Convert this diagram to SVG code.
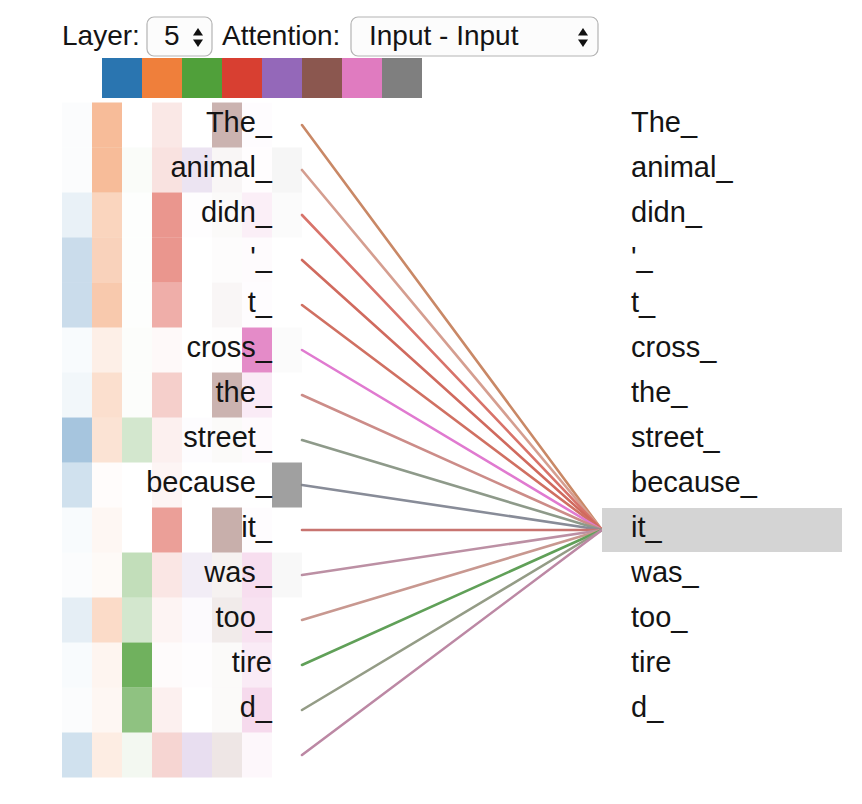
<svg xmlns="http://www.w3.org/2000/svg" width="862" height="804" viewBox="0 0 862 804">
<style>
  text { font-family: "Liberation Sans", Arial, Helvetica, sans-serif; fill: #141414; }
  .ctl { font-size: 28px; }
  .tok { font-size: 29px; }
  .left { text-anchor: end; }
  .sel { fill: #fcfcfc; stroke: #b4b4b4; stroke-width: 1.2; }
  .arr { fill: #111; }
  .b { fill: #2a75b0; } .o { fill: #ef7f3b; } .g { fill: #50a03a; } .r { fill: #d83f31; }
  .p { fill: #9468b9; } .br { fill: #8b574f; } .pk { fill: #e07bc0; } .gy { fill: #7f7f7f; }
  .conn line { stroke-width: 2.6; fill: none; stroke-linecap: round; }
</style>
<rect width="862" height="804" fill="#ffffff"/>

<g id="controls">
  <text class="ctl" x="62" y="45">Layer:</text>
  <rect class="sel" x="147" y="17" width="65" height="39" rx="7"/>
  <text class="ctl" x="164" y="45">5</text>
  <polygon class="arr" points="193,35.5 198,28 203,35.5"/>
  <polygon class="arr" points="193,39.5 198,47 203,39.5"/>
  <text class="ctl" x="222" y="45">Attention:</text>
  <rect class="sel" x="351" y="17" width="247" height="39" rx="7"/>
  <text class="ctl" x="369" y="45">Input - Input</text>
  <polygon class="arr" points="578,35.5 583,28 588,35.5"/>
  <polygon class="arr" points="578,39.5 583,47 588,39.5"/>
</g>

<g id="legend">
  <rect class="b" x="102" y="58" width="40" height="40"/>
  <rect class="o" x="142" y="58" width="40" height="40"/>
  <rect class="g" x="182" y="58" width="40" height="40"/>
  <rect class="r" x="222" y="58" width="40" height="40"/>
  <rect class="p" x="262" y="58" width="40" height="40"/>
  <rect class="br" x="302" y="58" width="40" height="40"/>
  <rect class="pk" x="342" y="58" width="40" height="40"/>
  <rect class="gy" x="382" y="58" width="40" height="40"/>
</g>

<g id="connectors" class="conn">
  <line x1="302" y1="125" x2="602" y2="530" stroke="#c98866"/>
  <line x1="302" y1="170" x2="602" y2="530" stroke="#d59e90"/>
  <line x1="302" y1="215" x2="602" y2="530" stroke="#d8736a"/>
  <line x1="302" y1="260" x2="602" y2="530" stroke="#d06a5e"/>
  <line x1="302" y1="305" x2="602" y2="530" stroke="#d07062"/>
  <line x1="302" y1="350" x2="602" y2="530" stroke="#e07ad0"/>
  <line x1="302" y1="395" x2="602" y2="530" stroke="#cc8c88"/>
  <line x1="302" y1="440" x2="602" y2="530" stroke="#8e9a8a"/>
  <line x1="302" y1="485" x2="602" y2="530" stroke="#888c98"/>
  <line x1="302" y1="530" x2="602" y2="530" stroke="#c87470"/>
  <line x1="302" y1="575" x2="602" y2="530" stroke="#bc90a4"/>
  <line x1="302" y1="620" x2="602" y2="530" stroke="#c89890"/>
  <line x1="302" y1="665" x2="602" y2="530" stroke="#60a058"/>
  <line x1="302" y1="710" x2="602" y2="530" stroke="#949c86"/>
  <line x1="302" y1="755" x2="602" y2="530" stroke="#bc88a4"/>
</g>

<g id="left-0">
  <rect class="b" x="62" y="102.5" width="30" height="45" opacity="0.02"/>
  <rect class="o" x="92" y="102.5" width="30" height="45" opacity="0.52"/>
  <rect class="r" x="152" y="102.5" width="30" height="45" opacity="0.12"/>
  <rect class="br" x="212" y="102.5" width="30" height="45" opacity="0.45"/>
  <rect class="pk" x="242" y="102.5" width="30" height="45" opacity="0.02"/>
  <text class="tok left" x="272" y="132">The_</text>
</g>
<g id="left-1">
  <rect class="b" x="62" y="147.5" width="30" height="45" opacity="0.02"/>
  <rect class="o" x="92" y="147.5" width="30" height="45" opacity="0.52"/>
  <rect class="g" x="122" y="147.5" width="30" height="45" opacity="0.03"/>
  <rect class="r" x="152" y="147.5" width="30" height="45" opacity="0.15"/>
  <rect class="p" x="182" y="147.5" width="30" height="45" opacity="0.18"/>
  <rect class="br" x="212" y="147.5" width="30" height="45" opacity="0.05"/>
  <rect class="pk" x="242" y="147.5" width="30" height="45" opacity="0.01"/>
  <rect class="gy" x="272" y="147.5" width="30" height="45" opacity="0.07"/>
  <text class="tok left" x="272" y="177">animal_</text>
</g>
<g id="left-2">
  <rect class="b" x="62" y="192.5" width="30" height="45" opacity="0.10"/>
  <rect class="o" x="92" y="192.5" width="30" height="45" opacity="0.33"/>
  <rect class="g" x="122" y="192.5" width="30" height="45" opacity="0.01"/>
  <rect class="r" x="152" y="192.5" width="30" height="45" opacity="0.55"/>
  <rect class="p" x="182" y="192.5" width="30" height="45" opacity="0.01"/>
  <rect class="br" x="212" y="192.5" width="30" height="45" opacity="0.03"/>
  <rect class="pk" x="242" y="192.5" width="30" height="45" opacity="0.12"/>
  <rect class="gy" x="272" y="192.5" width="30" height="45" opacity="0.03"/>
  <text class="tok left" x="272" y="222">didn_</text>
</g>
<g id="left-3">
  <rect class="b" x="62" y="237.5" width="30" height="45" opacity="0.25"/>
  <rect class="o" x="92" y="237.5" width="30" height="45" opacity="0.35"/>
  <rect class="g" x="122" y="237.5" width="30" height="45" opacity="0.01"/>
  <rect class="r" x="152" y="237.5" width="30" height="45" opacity="0.55"/>
  <rect class="br" x="212" y="237.5" width="30" height="45" opacity="0.02"/>
  <rect class="pk" x="242" y="237.5" width="30" height="45" opacity="0.03"/>
  <text class="tok left" x="272" y="267">'_</text>
</g>
<g id="left-4">
  <rect class="b" x="62" y="282.5" width="30" height="45" opacity="0.25"/>
  <rect class="o" x="92" y="282.5" width="30" height="45" opacity="0.42"/>
  <rect class="g" x="122" y="282.5" width="30" height="45" opacity="0.01"/>
  <rect class="r" x="152" y="282.5" width="30" height="45" opacity="0.42"/>
  <rect class="br" x="212" y="282.5" width="30" height="45" opacity="0.05"/>
  <rect class="pk" x="242" y="282.5" width="30" height="45" opacity="0.02"/>
  <text class="tok left" x="272" y="312">t_</text>
</g>
<g id="left-5">
  <rect class="b" x="62" y="327.5" width="30" height="45" opacity="0.03"/>
  <rect class="o" x="92" y="327.5" width="30" height="45" opacity="0.12"/>
  <rect class="g" x="122" y="327.5" width="30" height="45" opacity="0.02"/>
  <rect class="r" x="152" y="327.5" width="30" height="45" opacity="0.03"/>
  <rect class="br" x="212" y="327.5" width="30" height="45" opacity="0.01"/>
  <rect class="pk" x="242" y="327.5" width="30" height="45" opacity="0.88"/>
  <rect class="gy" x="272" y="327.5" width="30" height="45" opacity="0.03"/>
  <text class="tok left" x="272" y="357">cross_</text>
</g>
<g id="left-6">
  <rect class="b" x="62" y="372.5" width="30" height="45" opacity="0.06"/>
  <rect class="o" x="92" y="372.5" width="30" height="45" opacity="0.25"/>
  <rect class="g" x="122" y="372.5" width="30" height="45" opacity="0.02"/>
  <rect class="r" x="152" y="372.5" width="30" height="45" opacity="0.25"/>
  <rect class="br" x="212" y="372.5" width="30" height="45" opacity="0.45"/>
  <rect class="pk" x="242" y="372.5" width="30" height="45" opacity="0.15"/>
  <text class="tok left" x="272" y="402">the_</text>
</g>
<g id="left-7">
  <rect class="b" x="62" y="417.5" width="30" height="45" opacity="0.42"/>
  <rect class="o" x="92" y="417.5" width="30" height="45" opacity="0.22"/>
  <rect class="g" x="122" y="417.5" width="30" height="45" opacity="0.25"/>
  <rect class="r" x="152" y="417.5" width="30" height="45" opacity="0.08"/>
  <rect class="p" x="182" y="417.5" width="30" height="45" opacity="0.02"/>
  <rect class="br" x="212" y="417.5" width="30" height="45" opacity="0.03"/>
  <rect class="pk" x="242" y="417.5" width="30" height="45" opacity="0.04"/>
  <text class="tok left" x="272" y="447">street_</text>
</g>
<g id="left-8">
  <rect class="b" x="62" y="462.5" width="30" height="45" opacity="0.22"/>
  <rect class="o" x="92" y="462.5" width="30" height="45" opacity="0.02"/>
  <rect class="r" x="152" y="462.5" width="30" height="45" opacity="0.05"/>
  <rect class="gy" x="272" y="462.5" width="30" height="45" opacity="0.74"/>
  <text class="tok left" x="272" y="492">because_</text>
</g>
<g id="left-9">
  <rect class="b" x="62" y="507.5" width="30" height="45" opacity="0.03"/>
  <rect class="o" x="92" y="507.5" width="30" height="45" opacity="0.06"/>
  <rect class="r" x="152" y="507.5" width="30" height="45" opacity="0.50"/>
  <rect class="br" x="212" y="507.5" width="30" height="45" opacity="0.48"/>
  <rect class="pk" x="242" y="507.5" width="30" height="45" opacity="0.02"/>
  <text class="tok left" x="272" y="537">it_</text>
</g>
<g id="left-10">
  <rect class="b" x="62" y="552.5" width="30" height="45" opacity="0.02"/>
  <rect class="o" x="92" y="552.5" width="30" height="45" opacity="0.04"/>
  <rect class="g" x="122" y="552.5" width="30" height="45" opacity="0.35"/>
  <rect class="r" x="152" y="552.5" width="30" height="45" opacity="0.13"/>
  <rect class="p" x="182" y="552.5" width="30" height="45" opacity="0.12"/>
  <rect class="br" x="212" y="552.5" width="30" height="45" opacity="0.08"/>
  <rect class="pk" x="242" y="552.5" width="30" height="45" opacity="0.25"/>
  <rect class="gy" x="272" y="552.5" width="30" height="45" opacity="0.05"/>
  <text class="tok left" x="272" y="582">was_</text>
</g>
<g id="left-11">
  <rect class="b" x="62" y="597.5" width="30" height="45" opacity="0.12"/>
  <rect class="o" x="92" y="597.5" width="30" height="45" opacity="0.28"/>
  <rect class="g" x="122" y="597.5" width="30" height="45" opacity="0.25"/>
  <rect class="r" x="152" y="597.5" width="30" height="45" opacity="0.06"/>
  <rect class="p" x="182" y="597.5" width="30" height="45" opacity="0.03"/>
  <rect class="br" x="212" y="597.5" width="30" height="45" opacity="0.12"/>
  <rect class="pk" x="242" y="597.5" width="30" height="45" opacity="0.22"/>
  <text class="tok left" x="272" y="627">too_</text>
</g>
<g id="left-12">
  <rect class="b" x="62" y="642.5" width="30" height="45" opacity="0.03"/>
  <rect class="o" x="92" y="642.5" width="30" height="45" opacity="0.08"/>
  <rect class="g" x="122" y="642.5" width="30" height="45" opacity="0.82"/>
  <rect class="r" x="152" y="642.5" width="30" height="45" opacity="0.02"/>
  <rect class="p" x="182" y="642.5" width="30" height="45" opacity="0.01"/>
  <rect class="br" x="212" y="642.5" width="30" height="45" opacity="0.03"/>
  <rect class="pk" x="242" y="642.5" width="30" height="45" opacity="0.15"/>
  <text class="tok left" x="272" y="672">tire</text>
</g>
<g id="left-13">
  <rect class="b" x="62" y="687.5" width="30" height="45" opacity="0.02"/>
  <rect class="o" x="92" y="687.5" width="30" height="45" opacity="0.06"/>
  <rect class="g" x="122" y="687.5" width="30" height="45" opacity="0.64"/>
  <rect class="r" x="152" y="687.5" width="30" height="45" opacity="0.08"/>
  <rect class="br" x="212" y="687.5" width="30" height="45" opacity="0.03"/>
  <rect class="pk" x="242" y="687.5" width="30" height="45" opacity="0.28"/>
  <text class="tok left" x="272" y="717">d_</text>
</g>
<g id="left-14">
  <rect class="b" x="62" y="732.5" width="30" height="45" opacity="0.22"/>
  <rect class="o" x="92" y="732.5" width="30" height="45" opacity="0.14"/>
  <rect class="g" x="122" y="732.5" width="30" height="45" opacity="0.07"/>
  <rect class="r" x="152" y="732.5" width="30" height="45" opacity="0.22"/>
  <rect class="p" x="182" y="732.5" width="30" height="45" opacity="0.22"/>
  <rect class="br" x="212" y="732.5" width="30" height="45" opacity="0.15"/>
  <rect class="pk" x="242" y="732.5" width="30" height="45" opacity="0.06"/>
</g>

<g id="right-0"><text class="tok" x="631" y="132">The_</text></g>
<g id="right-1"><text class="tok" x="631" y="177">animal_</text></g>
<g id="right-2"><text class="tok" x="631" y="222">didn_</text></g>
<g id="right-3"><text class="tok" x="631" y="267">'_</text></g>
<g id="right-4"><text class="tok" x="631" y="312">t_</text></g>
<g id="right-5"><text class="tok" x="631" y="357">cross_</text></g>
<g id="right-6"><text class="tok" x="631" y="402">the_</text></g>
<g id="right-7"><text class="tok" x="631" y="447">street_</text></g>
<g id="right-8"><text class="tok" x="631" y="492">because_</text></g>
<g id="right-9">
  <rect x="602" y="508" width="240" height="44" fill="#d4d4d4"/>
  <text class="tok" x="631" y="537">it_</text>
</g>
<g id="right-10"><text class="tok" x="631" y="582">was_</text></g>
<g id="right-11"><text class="tok" x="631" y="627">too_</text></g>
<g id="right-12"><text class="tok" x="631" y="672">tire</text></g>
<g id="right-13"><text class="tok" x="631" y="717">d_</text></g>
</svg>
